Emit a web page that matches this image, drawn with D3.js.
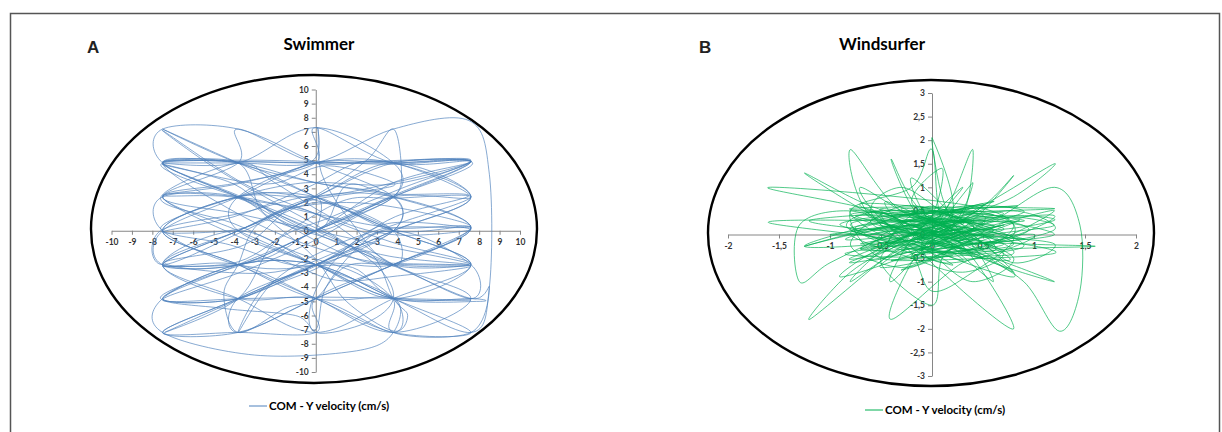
<!DOCTYPE html>
<html>
<head>
<meta charset="utf-8">
<script src="https://cdn.jsdelivr.net/npm/d3@7"></script>
<style>
  body { margin: 0; background: #fff; }
  svg { display: block; }
  .tick text { font-family: Lato, "Open Sans", sans-serif; font-weight: bold; font-size: 8.5px; fill: #333; }
  .axis path, .axis line { stroke: #868686; stroke-width: 1; }
</style>
</head>
<body>
<svg width="1222" height="432"></svg>
<script>
// swimmer: COM velocity trace (x, y), cm/s
const swimmerPath = [
  [0,0],[3.8,2.4],[7.6,4.9],[0,4.8],[-7.5,4.8],[-3.8,2.4],[0,1.2],[3.8,-2.4],[7.6,-4.8],[3.8,-7.2],
  [0,-4.8],[-3.8,-2.4],[-7.5,-2.4],[-3.8,0],[0,2.4],[3.8,4.8],[7.6,2.4],[3.8,0],[0,-2.4],[-3.8,-4.8],
  [-7.5,-7.2],[-3.8,-7.2],[0,-7.2],[0,-4.8],[3.8,-2.4],[7.6,0.2],[3.8,2.4],[0,3.4],[-3.8,4.8],[-7.5,7.2],
  [-3.8,4.8],[0,2.4],[3.8,0],[7.6,-2.4],[3.8,-4.8],[0,-2.4],[-3.8,0],[-7.5,2.4],[-3.8,3.4],[0,4.8],
  [0,7.3],[3.8,4.8],[7.6,4.9],[3.8,3.4],[0,2.4],[-3.8,2.4],[-7.5,0],[-3.8,-2.4],[0,-4.8],[3.8,-7.2],
  [7.6,-7.2],[3.8,-4.8],[0,-2.4],[-3.8,-2.4],[-7.5,-4.8],[-3.8,-4.8],[0,-2.4],[3.8,0],[7.6,2.4],[3.8,4.8],
  [0,4.8],[-3.8,7.2],[-3.8,4.8],[-7.5,2.4],[-3.8,1.2],[0,0],[3.8,-1.2],[7.6,-2.4],[3.8,-2.4],[0,-1.2],
  [-3.8,1.2],[-7.5,4.8],[-3.8,4.8],[0,3.4],[3.8,2.4],[3.8,0],[0,-2.4],[-3.8,-4.8],[-3.8,-7.2],[0,-4.8],
  [3.8,-2.4],[7.6,0.2],[3.8,0.2],[0,1.2],[-3.8,2.4],[-7.5,2.4],[-3.8,-0.4],[0,-2.4],[3.8,-4.8],[7.6,-4.8],
  [8,-5],[3.8,-4.8],[0,-2.4],[-3.8,0],[-7.5,-2.4],[-3.8,-4.8],[0,-7.2],[3.8,-4.8],[7.6,-2.4],[3.8,0],
  [0,2.4],[-3.8,4.8],[-7.5,4.8],[-3.8,2.4],[0,0],[3.8,2.4],[7.6,2.4],[3.8,4.8],[0,4.8],[-3.8,2.4],
  [-7.5,0],[-7.5,-2.4],[-3.8,-2.4],[0,0],[3.8,2.4],[3.8,4.8],[0,7.3],[-3.8,4.8],[-7.5,4.8],[-3.8,4.8],
  [0,4.8],[3.8,7.2],[7.5,7.8],[8.5,4],[8.5,-4],[7.6,-7.2],[3.8,-4.8],[0,-2.4],[-3.8,-2.4],[-7.5,-4.8],
  [-7.5,-7.2],[-3,-8.8],[2,-8.5],[3.8,-7.2],[3.8,-4.8],[0,-4.8],[-3.8,-2.4],[-7.5,0],[-3.8,2.4],[0,2.4],
  [3.8,0],[7.6,0.2],[3.8,-2.4],[0,-2.4],[-3.8,-4.8],[-7.5,-4.8],[-3.8,-2.4],[0,0],[3.8,3.4],[7.6,4.9],
  [3.8,4.8],[0,2.4],[-3.8,0],[-7.5,-2.4],[-3.8,-4.8],[0,-4.8],[3.8,-7.2],[3.8,-4.8],[0,-2.4],[-3.8,0],
  [-3.8,2.4],[0,4.8],[3.8,4.8],[7.6,4.9],[3.8,2.4],[0,0],[-3.8,-2.4],[-7.5,-2.4],[-3.8,0],[0,2.4],
  [3.8,2.4],[7.6,0.2],[3.8,-2.4],[0,-4.8],[-3.8,-7.2],[-7.5,-7.2],[-3.8,-4.8],[0,-2.4],[3.8,0],[7.6,-2.4],
  [7.6,-4.8],[3.8,-2.4],[0,0],[-3.8,2.4],[-7.5,4.8],[-7.5,7.2],[-3.8,7.2],[0,4.8],[3.8,2.4],[3.8,0],
  [0,-2.4],[-3.8,-2.4],[-7.5,0],[-7.5,2.4],[-3.8,2.4],[0,0],
  [1.5,3.2],[3.7,2.6],[7.5,2.5],[3.9,1],[1,-1.5],[-2.5,-3],[-7.4,-2.3],[-3.5,-1],[-1,1.8],[2.5,2.8],
  [3.8,3.4],[0.5,4.6],[-2.5,3.3],[-7.5,4.7],[-4,3.3],[-1.5,0.5],[2,-2],[3.8,-2.3],[7.6,-2.5],[4,-3.2],
  [1,-3.5],[-2,-2],[-3.8,-2.5],[-7.6,-4.7],[-4.5,-5.5],[-1,-6],[0,-7],[0.5,-4],[2.2,-1],[3.8,0.2],
  [7.6,0.3],[4.5,1.5],[1.5,2],[-1.5,1.5],[-3.8,0.1],[-7.5,-0.1],[-4,1],[-0.5,3],[2,4.8],[3.8,4.9],
  [7.6,5],[4.2,3],[0.8,1],[-2,-0.8],[-3.8,-4.8],[-7.4,-7.2],[-4,-5],[-0.5,-3],[2.5,-1.5],[3.8,-4.8],
  [4.5,-6],[3.8,-7.1],[1.5,-5],[0,-2],[-1.8,0.2],[-3.8,2.3],[-7.5,2.5],[-3.9,3.3],[-0.2,4.9],[0.1,7.3],
  [0.3,4],[1.8,0.5],[3.8,-2.4],[7.5,-2.4],[3.6,-1.8],[0.5,-0.5],[-2.5,1.2],[-3.8,4.8],[-7.5,4.9],[-3.6,5],
  [0,4.9],[3.8,4.7],[7.6,4.9],[3.8,2.5],[0.2,0.2],[-3,-2.2],[-7.5,-2.5],[-3.8,-2.2],[-1,0.3],[1.5,2.2],
  [3.8,2.3],[7.6,2.4],[4,0.5],[1,-1],[-2,-3.5],[-3.8,-7.2],[-2.5,-4],[0,-2.5],[2.8,-0.2],[3.8,0],
  [1.5,1.5],[-1.5,2.6],[-3.8,2.4],[-7.6,0.2],[-4.2,-1],[-1.2,-2.4],[1.8,-2.6],[3.8,-4.7],[7.6,-4.9],[3.9,-4.8],
  [0.3,-4.7],[-3.5,-4.8],[-7.5,-4.9],[-3.8,-3],[-0.5,-1],[2,1],[3.8,2.4],[4.2,4],[3.8,7.2],[2.5,5],
  [0,2.5],[-2.8,0.5],[-3.8,-2.4],[-4.5,-4.5],[-3.8,-7.2],[-1.5,-5.5],[0,-4.8],[1.5,-2.5],[3.8,-2.4],[7.6,-2.3],
  [3.7,-0.8],[0,1.2],[-3.6,3.4],[-7.5,7.1],[-5,4.5],[-2,2],[0.5,0],[3,-2.5],[3.8,-4.8],[2.5,-6.5],
  [0,-7.2],[-0.2,-5],[1,-2],[3.5,0.5],[7.6,0.1],[4,-0.3],[1,0.8],[-2,3.4],[-3.8,4.8],[-7.6,2.3],
  [-4,0.5],[-1,-1.5],[2,-3],[3.8,-4.9],[3.8,-7.2],[7.6,-7.2],[8.5,-4],[7.6,-4.8],[4,-2.6],[0.5,-0.5],
  [-3,2],[-3.8,2.4],[-0.5,3.4],[3.8,3.3],[7.6,4.9],[3.8,4.8],[0,4.8],[-3.8,4.9],[-7.5,4.8],[-3.8,2.5],
  [0,0.2],[3.8,-2.5],[3.8,0],[0.5,2],[-2,1],[-3.8,-0.2],[-7.5,-2.4],[-7.6,0],[-3.8,1.2],[0,2.4],[0,0]
];

// windsurfer: COM velocity trace (x, y), cm/s
const windsurferPath = [
  [0,0],[0.4,0.3],[-0.5,0.5],[-0.8,0.1],[0.3,-0.4],[0.8,0.2],[0.2,0.5],[-0.4,-0.3],[-0.8,-0.5],[0.1,0.2],
  [0.8,0.5],[1.2,0.1],[0.4,-0.2],[-0.3,0.2],[-1.25,-0.25],[-0.5,0.1],[0.2,0],[0.8,-0.5],[0.4,-1],[0,-0.4],
  [-0.4,0.4],[-1.6,1],[0.4,0.6],[0.8,0],[0.1,-0.3],[-0.5,-0.5],[-0.8,0.5],[-0.2,1],[0,1.8],[0.1,0.3],
  [0.5,-0.2],[1.2,0.5],[0.6,0.2],[-0.2,-0.2],[-0.8,-1],[-0.4,-0.2],[0.2,0.3],[0.8,0.8],[1.2,1.5],[0.4,0.5],
  [-0.2,0],[-0.5,-0.6],[0,-1.5],[0.1,-0.5],[0.4,0.2],[-0.3,0.5],[-0.8,1.8],[-0.6,0.4],[0.2,-0.1],[0.9,-0.2],
  [1.6,-0.25],[0.8,-0.3],[0.2,-0.4],[-0.4,-0.1],[-1.6,0.25],[-0.8,0.3],[0,0.2],[0.4,-0.5],[0.8,-2],[0.2,-1],
  [-0.1,-0.2],[0.3,0.4],[0.4,1.8],[0.2,0.8],[0,0.1],[-0.4,-0.4],[-1.2,-1.8],[-0.8,-0.8],[-0.3,-0.2],[0.2,0.2],
  [0.8,0.4],[1.2,0.3],[0.5,0.1],[-0.1,0.5],[-0.4,1.6],[-0.2,0.6],[0.1,-0.1],[0.6,-0.6],[1.2,-1],[0.6,-0.5],
  [0,-0.1],[-0.5,0.3],[-1.25,1.3],[-0.6,0.6],[0,0.3],[0.5,0],[0.8,-0.4],[0.3,-0.6],[-0.4,-1.8],[-0.2,-0.6],
  [0.1,0],[0.6,0.3],[1.2,1],[1.45,0.2],[1.45,-1.2],[1.25,-2.05],[0.9,-1],[0.4,-0.4],[-0.3,0.1],[-0.8,0.5],
  [-1.3,0.2],[-1.3,-1],[-1,-0.6],[-0.4,0],[0.2,0.4],[0,2.05],[0.1,0.8],[0.3,0],[0.8,-0.8],[0.3,-0.2],
  [-0.3,0.3],[-0.8,0.2],[-0.2,-0.3],[0.4,-0.2],[1.2,0],[0.5,0.3],[-0.1,0.1],[-0.6,-0.4],[-0.9,-0.9],[-0.3,-0.5],
  [0.2,0],[0.5,0.5],[0.8,1.25],[0.5,0.6],[0,0],[-0.5,-0.2],[-1.25,-0.25],[-0.6,0.2],[0,0.5],[0.4,0.1],
  [0.8,-0.1],[0.4,-0.8],[0,-1.2],[-0.2,-0.4],[-0.6,0.5],[-0.3,1],[0.1,0.5],[0.4,0.3],[1.2,0.4],[0.7,-0.1],
  [0.1,-0.2],[-0.5,0],[-0.8,0.5],[-0.3,0.4],[0.3,0.1],[0.8,-0.6],[1.2,-0.2],[0.4,0],[-0.2,0.3],[-0.5,-0.3],
  [-0.8,-0.6],[-0.1,-0.3],[0.5,0.2],[0.9,0.5],[0.3,0.6],[-0.4,0.2],[-0.8,0],[-0.2,-0.5],[0.3,-0.8],[0.7,-0.4],
  [0.2,0.1],[-0.2,0.7],[0.1,1.4],[0,0.4],[-0.3,-0.1],[-0.7,-0.3],[0,0.1],[0.6,0.4],[1.2,0.2],[0.6,0],
  [0,-0.3],[-0.4,0.4],[-0.8,0.4],[-0.2,0],[0.3,-0.3],[0.8,-0.2],[0.3,0.3],[-0.3,0.6],[-0.8,-0.2],[-0.3,-0.7],
  [0.2,-0.3],[0.6,0.1],[0,0],
  [0.3,0.25],[-0.6,0.1],[0.75,0.35],[-0.2,-0.45],[0.5,0.65],[-0.7,-0.3],[0.4,-0.1],[-0.3,0.55],[0.95,0.1],[-0.5,-0.7],
  [0.2,0.4],[-0.9,0.2],[0.6,-0.35],[0,0.6],[-0.4,-0.2],[0.7,0.45],[-0.6,0.3],[0.3,-0.55],[-0.1,0.2],[0.9,0.3],
  [-0.7,0.65],[0.2,-0.2],[-0.3,-0.75],[0.5,0.1],[-0.85,-0.1],[0.6,0.7],[-0.2,0.1],[0.4,-0.4],[-0.5,0.45],[0.1,-0.6],
  [1,0],[-0.6,-0.25],[0.3,0.5],[-0.4,0.1],[0.7,-0.2],[-0.1,-0.35],[0.5,0.3],[-1,0],[0.2,0.1],[-0.3,0.4],
  [1.2,0.55],[-0.8,0.55],[0.4,0.2],[-0.2,-0.5],[0.65,-0.1],[-0.5,0.2],[0.1,0.45],[-0.6,-0.55],[0.85,0.3],[0,-0.2],
  [-0.45,0.7],[0.5,-0.3],[-0.2,0.2],[0.3,-0.1],[-0.75,0.4],[0.6,0.2],[-0.1,0],[0.4,0.6],[-0.55,-0.1],[0.2,-0.45],
  [-0.85,-0.4],[0.7,0.1],[-0.3,0.3],[0.1,-0.1],[0.5,0.4],[-0.65,0.45],[0.3,-0.3],[-0.1,0.55],[0.9,-0.25],[-0.4,-0.55],
  [1.2,-0.4],[0.4,0],[-0.2,0.45],[0.6,0.4],[-0.75,0.15],[0.2,-0.65],[-0.3,0],[0.5,-0.5],[-0.5,0.5],[0,0.3],
  [0.75,-0.55],[-0.8,0.1],[0.3,0.3],[-0.2,-0.1],[0.45,0.45],[-0.6,0],[0.1,0.2],[0.9,-0.1],[-0.4,0.3],[0.2,0.55],
  [-0.1,-0.4],[0.6,0],[-0.7,-0.2],[0.3,0.1],[-0.3,-0.35],[0.5,0.2],[-0.5,0.3],[0.1,0.5],[0.8,0.6],[-1.2,0.3],
  [0.2,0],[-0.2,0.5],[0.4,-0.3],[-0.6,-0.3],[0.7,0.2],[0,0],
  [0.3,1],[-0.2,-0.1],[-0.4,-1],[0.2,0.1],[0.6,-1],[0,0.2],[-0.2,1.2],[0.3,0.2],[0.8,-0.9],[-0.3,0],
  [-0.7,1],[0.1,0.1],[0.4,1.1],[0,0]
];

const swimmerXTicks = d3.range(-10, 11, 1);
const swimmerYTicks = d3.range(-10, 11, 1);
const windXTicks = [-2, -1.5, -1, -0.5, 0, 0.5, 1, 1.5, 2];
const windYTicks = [-3, -2.5, -2, -1.5, -1, -0.5, 0, 0.5, 1, 1.5, 2, 2.5, 3];
const legendLabel = "COM - Y velocity (cm/s)";

const svg = d3.select("svg");

svg.append("rect")
  .attr("x", 10.5).attr("y", 13.5)
  .attr("width", 1209).attr("height", 440)
  .attr("fill", "none").attr("stroke", "#555").attr("stroke-width", 1.5);

const comma = d => String(d).replace(".", ",");

const panels = [
  {letter: "A", title: "Swimmer", data: swimmerPath, color: "#4F81BD",
   xDom: [-10, 10], xRange: [111.5, 520], yDom: [-10, 10], yRange: [372, 89.5],
   xTicks: swimmerXTicks, yTicks: swimmerYTicks, fmt: d => d,
   ell: {cx: 314, cy: 229, rx: 223, ry: 154},
   letterX: 87, titleX: 319, legX: 249, legY: 406},
  {letter: "B", title: "Windsurfer", data: windsurferPath, color: "#00B050",
   xDom: [-2, 2], xRange: [728, 1136], yDom: [-3, 3], yRange: [376, 93],
   xTicks: windXTicks, yTicks: windYTicks, fmt: comma,
   ell: {cx: 931, cy: 233, rx: 223, ry: 153},
   letterX: 699, titleX: 882, legX: 865, legY: 410}
];

panels.forEach(p => {
  const x = d3.scaleLinear().domain(p.xDom).range(p.xRange);
  const y = d3.scaleLinear().domain(p.yDom).range(p.yRange);
  const g = svg.append("g");

  g.append("ellipse")
    .attr("cx", p.ell.cx).attr("cy", p.ell.cy)
    .attr("rx", p.ell.rx).attr("ry", p.ell.ry)
    .attr("fill", "none").attr("stroke", "#000").attr("stroke-width", 2.4);

  g.append("g")
    .attr("class", "axis")
    .attr("transform", "translate(0," + y(0) + ")")
    .call(d3.axisBottom(x).tickValues(p.xTicks).tickFormat(p.fmt).tickSizeInner(4).tickSizeOuter(0).tickPadding(4));

  g.append("g")
    .attr("class", "axis")
    .attr("transform", "translate(" + x(0) + ",0)")
    .call(d3.axisLeft(y).tickValues(p.yTicks).tickFormat(p.fmt).tickSizeInner(4).tickSizeOuter(0).tickPadding(3));

  const line = d3.line()
    .x(d => x(d[0]))
    .y(d => y(d[1]))
    .curve(d3.curveCatmullRom.alpha(0));

  g.append("path")
    .attr("d", line(p.data))
    .attr("fill", "none")
    .attr("stroke", p.color)
    .attr("stroke-width", 0.8)
    .attr("stroke-opacity", 0.85);

  g.append("text")
    .attr("x", p.letterX).attr("y", 53)
    .attr("font-family", "Liberation Sans, Arial, sans-serif")
    .attr("font-weight", "bold").attr("font-size", 17)
    .attr("fill", "#222")
    .text(p.letter);

  g.append("text")
    .attr("x", p.titleX).attr("y", 50)
    .attr("text-anchor", "middle")
    .attr("font-family", "Lato, sans-serif")
    .attr("font-weight", "bold").attr("font-size", 17)
    .attr("fill", "#000")
    .text(p.title);

  g.append("line")
    .attr("x1", p.legX).attr("x2", p.legX + 18)
    .attr("y1", p.legY).attr("y2", p.legY)
    .attr("stroke", p.color).attr("stroke-width", 1);

  g.append("text")
    .attr("x", p.legX + 20).attr("y", p.legY + 4)
    .attr("font-family", "Lato, sans-serif")
    .attr("font-weight", "bold").attr("font-size", 11.5)
    .attr("fill", "#000")
    .text(legendLabel);
});
</script>
</body>
</html>
